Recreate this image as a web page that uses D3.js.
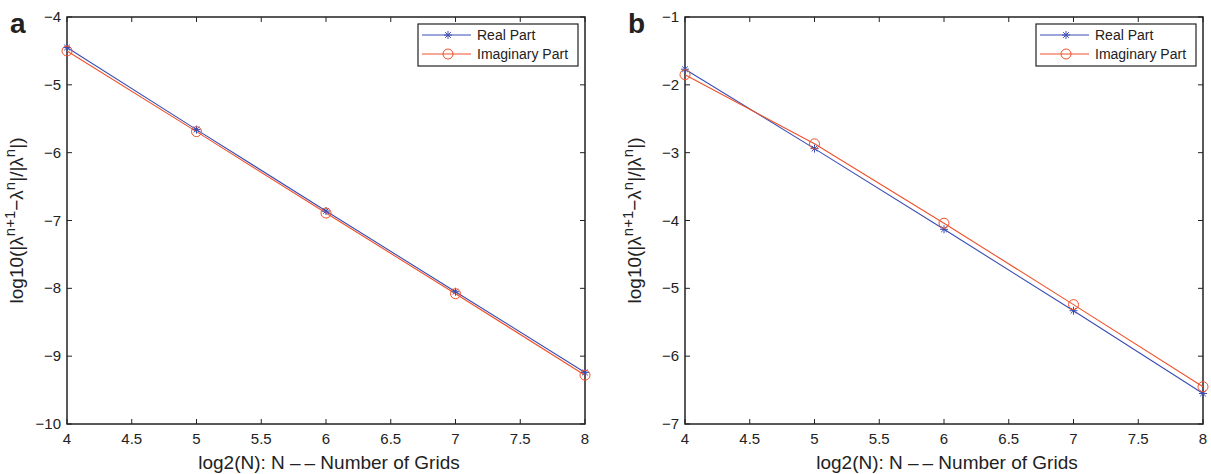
<!DOCTYPE html>
<html><head><meta charset="utf-8">
<script src="https://cdn.jsdelivr.net/npm/d3@7"></script>
<style>
body{margin:0;background:#fff;}
text{font-family:"Liberation Sans",Arial,Helvetica,sans-serif;fill:#222;}
</style></head><body>
<svg id="c" width="1211" height="474"></svg>
<script>
const xValues = [4, 5, 6, 7, 8];
const xTicks = [4, 4.5, 5, 5.5, 6, 6.5, 7, 7.5, 8];
const realA = [-4.45, -5.66, -6.86, -8.05, -9.24];
const imagA = [-4.50, -5.69, -6.89, -8.08, -9.28];
const realB = [-1.77, -2.94, -4.13, -5.33, -6.55];
const imagB = [-1.85, -2.87, -4.04, -5.24, -6.45];
const yTicksA = [-10, -9, -8, -7, -6, -5, -4];
const yTicksB = [-7, -6, -5, -4, -3, -2, -1];
const seriesNames = ["Real Part", "Imaginary Part"];
const panelLabels = ["a", "b"];
const xLabel = "log2(N): N \u2013\u2009\u2013 Number of Grids";

const blue = "#3a4db3", red = "#f0512a";
const svg = d3.select("#c");

function fmt(v){ return String(v).replace("-", "\u2212"); }

function panel(left, right, yDomain, yTicks, real, imag, label){
  const top = 17, bottom = 424;
  const x = d3.scaleLinear().domain([4, 8]).range([left, right]);
  const y = d3.scaleLinear().domain(yDomain).range([bottom, top]);
  const g = svg.append("g");
  const tl = 5;
  xTicks.forEach(t => {
    g.append("line").attr("x1", x(t)).attr("x2", x(t)).attr("y1", bottom).attr("y2", bottom - tl).attr("stroke", "#222");
    g.append("line").attr("x1", x(t)).attr("x2", x(t)).attr("y1", top).attr("y2", top + tl).attr("stroke", "#222");
    g.append("text").attr("x", x(t)).attr("y", bottom + 20).attr("text-anchor", "middle").attr("font-size", 15).text(fmt(t));
  });
  yTicks.forEach(t => {
    g.append("line").attr("x1", left).attr("x2", left + tl).attr("y1", y(t)).attr("y2", y(t)).attr("stroke", "#222");
    g.append("line").attr("x1", right).attr("x2", right - tl).attr("y1", y(t)).attr("y2", y(t)).attr("stroke", "#222");
    g.append("text").attr("x", left - 6).attr("y", y(t) + 5).attr("text-anchor", "end").attr("font-size", 15).text(fmt(t));
  });
  g.append("rect").attr("x", left).attr("y", top).attr("width", right - left).attr("height", bottom - top)
    .attr("fill", "none").attr("stroke", "#222").attr("stroke-width", 1.5);

  const line = d3.line().x((d, i) => x(xValues[i])).y(d => y(d));
  function star(sel, cx, cy){
    const r = 4;
    for (let k = 0; k < 4; k++){
      const a = k * Math.PI / 4;
      sel.append("line").attr("x1", cx - r * Math.cos(a)).attr("y1", cy - r * Math.sin(a))
        .attr("x2", cx + r * Math.cos(a)).attr("y2", cy + r * Math.sin(a)).attr("stroke", blue).attr("stroke-width", 1);
    }
  }
  function circ(sel, cx, cy){
    sel.append("circle").attr("cx", cx).attr("cy", cy).attr("r", 5).attr("fill", "none").attr("stroke", red).attr("stroke-width", 1);
  }
  g.append("path").datum(real).attr("d", line).attr("fill", "none").attr("stroke", blue).attr("stroke-width", 1.1);
  g.append("path").datum(imag).attr("d", line).attr("fill", "none").attr("stroke", red).attr("stroke-width", 1.1);
  real.forEach((v, i) => star(g, x(xValues[i]), y(v)));
  imag.forEach((v, i) => circ(g, x(xValues[i]), y(v)));

  const lx = right - 167, ly = 24, lw = 160, lh = 42;
  g.append("rect").attr("x", lx).attr("y", ly).attr("width", lw).attr("height", lh).attr("fill", "#fff").attr("stroke", "#222").attr("stroke-width", 1.2);
  [0, 1].forEach(i => {
    const yy = ly + 11 + i * 19;
    const col = i === 0 ? blue : red;
    g.append("line").attr("x1", lx + 4).attr("x2", lx + 53).attr("y1", yy).attr("y2", yy).attr("stroke", col);
    if (i === 0) star(g, lx + 30, yy); else circ(g, lx + 30, yy);
    g.append("text").attr("x", lx + 59).attr("y", yy + 5).attr("font-size", 14).text(seriesNames[i]);
  });

  g.append("text").attr("x", (left + right) / 2 + 3).attr("y", 469).attr("text-anchor", "middle").attr("font-size", 19).text(xLabel);
  const yl = g.append("text").attr("transform", `translate(${left - 44},${(top + bottom) / 2}) rotate(-90)`)
    .attr("text-anchor", "middle").attr("font-size", 19);
  yl.append("tspan").text("log10(|\u03bb");
  yl.append("tspan").attr("dy", -8).attr("font-size", 15).text("n+1");
  yl.append("tspan").attr("dy", 8).text("\u2212\u03bb");
  yl.append("tspan").attr("dy", -8).attr("font-size", 15).text("n");
  yl.append("tspan").attr("dy", 8).text("|/|\u03bb");
  yl.append("tspan").attr("dy", -8).attr("font-size", 15).text("n");
  yl.append("tspan").attr("dy", 8).text("|)");

  g.append("text").attr("x", left - 57).attr("y", 33).attr("font-size", 28).attr("font-weight", "bold").text(label);
}

panel(67, 585, [-10, -4], yTicksA, realA, imagA, panelLabels[0]);
panel(685, 1203, [-7, -1], yTicksB, realB, imagB, panelLabels[1]);
</script></body></html>
